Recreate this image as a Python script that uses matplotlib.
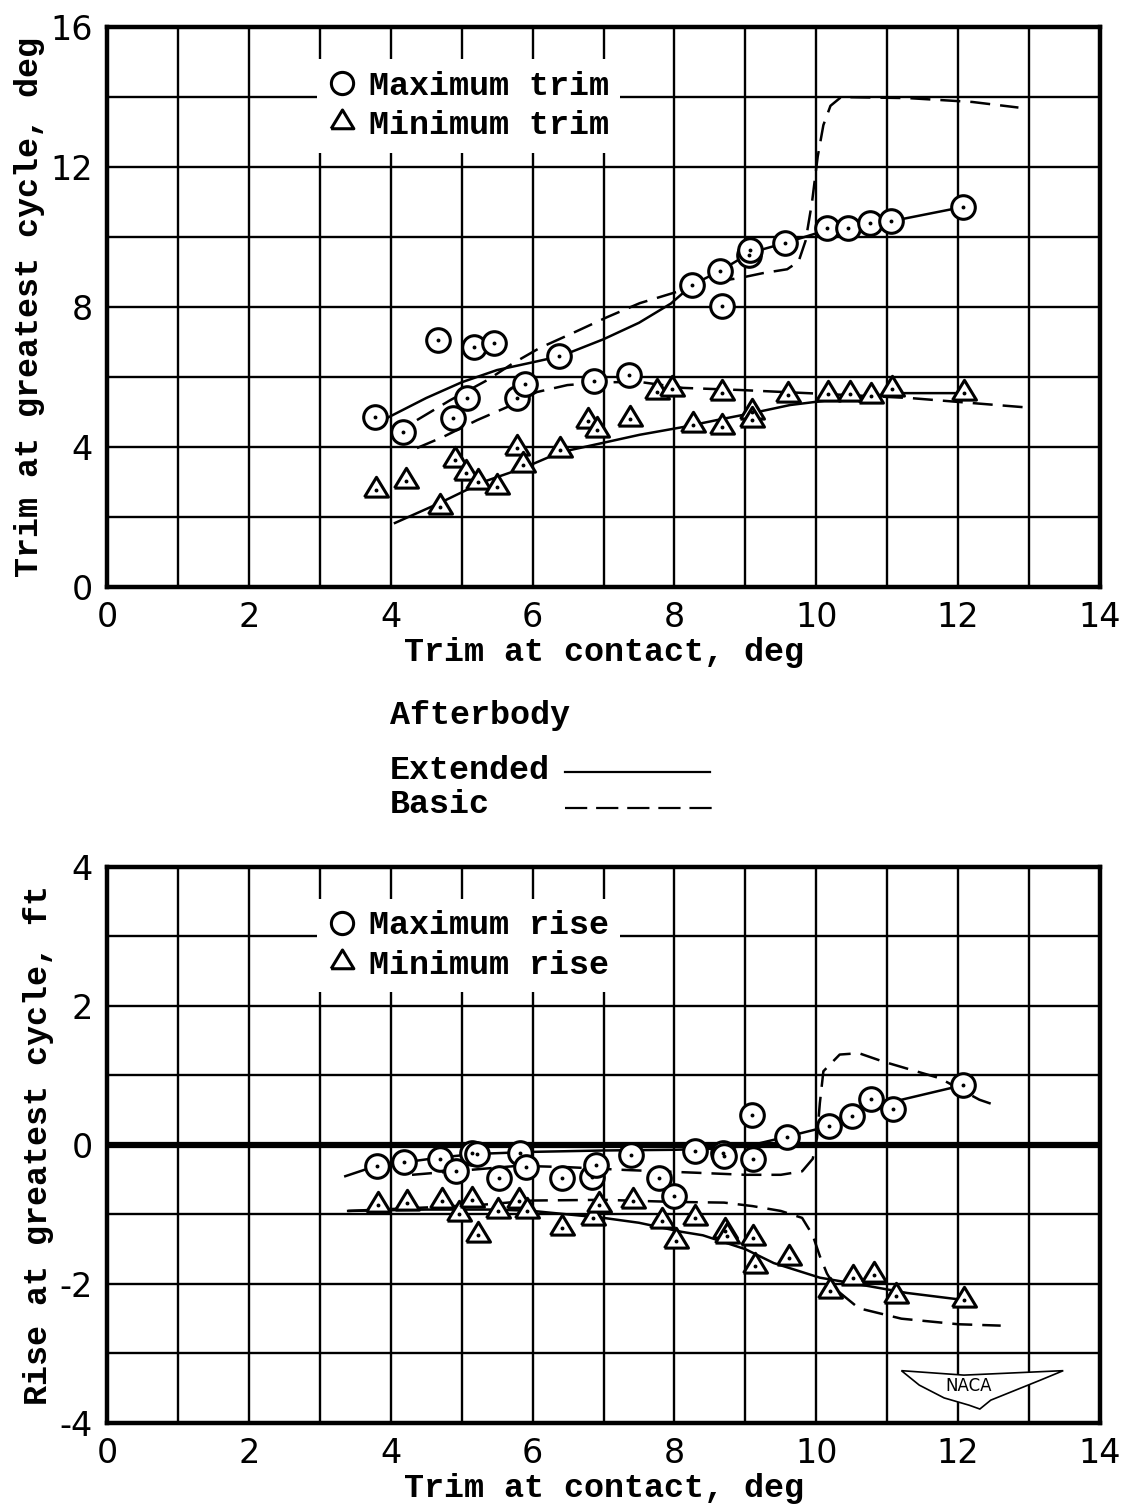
import matplotlib
matplotlib.use("Agg")
import matplotlib.pyplot as plt
from matplotlib.lines import Line2D
from matplotlib.patches import Polygon

plt.rcParams["axes.unicode_minus"] = False

# ---- top panel: trim at greatest cycle ----
max_trim_x = [3.78, 4.17, 4.67, 4.88, 5.08, 5.17, 5.46, 5.78, 5.89, 6.37, 6.87, 7.36,
              8.25, 8.64, 8.67, 9.05, 9.07, 9.56, 10.15, 10.45, 10.76, 11.05, 12.07]
max_trim_y = [4.86, 4.43, 7.06, 4.83, 5.40, 6.86, 6.97, 5.40, 5.80, 6.60, 5.89, 6.06,
              8.63, 9.03, 8.03, 9.49, 9.63, 9.83, 10.26, 10.26, 10.40, 10.46, 10.86]
min_trim_x = [3.79, 4.22, 4.69, 4.91, 5.06, 5.23, 5.50, 5.78, 5.86, 6.39, 6.78, 6.91, 7.37,
              7.75, 7.97, 8.26, 8.67, 8.67, 9.09, 9.09, 9.60, 10.16, 10.47, 10.77, 11.07, 12.08]
min_trim_y = [2.77, 3.03, 2.29, 3.63, 3.26, 3.00, 2.86, 3.97, 3.49, 3.91, 4.74, 4.49, 4.80,
              5.57, 5.66, 4.63, 5.54, 4.57, 5.00, 4.77, 5.49, 5.51, 5.51, 5.46, 5.66, 5.54]

ext_max_trim_x = [3.90, 4.50, 5.00, 5.50, 6.00, 6.40, 7.00, 7.50, 7.95, 8.25, 8.64, 9.07,
                  9.56, 10.15, 10.45, 10.76, 11.05, 12.07]
ext_max_trim_y = [4.78, 5.40, 5.85, 6.20, 6.42, 6.60, 7.08, 7.55, 8.10, 8.63, 9.03, 9.55,
                  9.83, 10.20, 10.26, 10.38, 10.45, 10.86]
bas_max_trim_x = [4.37, 4.84, 5.36, 5.73, 6.10, 6.57, 7.05, 7.51, 7.98, 8.46, 8.92, 9.25,
                  9.59, 9.75, 9.85, 9.94, 10.02, 10.10, 10.20, 10.35, 11.30, 12.20, 12.85]
bas_max_trim_y = [4.77, 5.34, 5.91, 6.40, 6.83, 7.26, 7.71, 8.11, 8.40, 8.69, 8.83, 8.97,
                  9.08, 9.30, 9.90, 11.00, 12.30, 13.20, 13.75, 14.00, 13.97, 13.86, 13.70]
ext_min_trim_x = [4.06, 4.69, 5.30, 5.87, 6.39, 6.95, 7.51, 8.12, 8.67, 9.10, 9.63, 9.87,
                  10.50, 11.00, 11.20, 12.08]
ext_min_trim_y = [1.83, 2.40, 3.00, 3.40, 3.85, 4.10, 4.35, 4.57, 4.80, 4.97, 5.20, 5.26,
                  5.42, 5.50, 5.54, 5.54]
bas_min_trim_x = [4.37, 4.74, 5.22, 5.64, 6.06, 6.49, 7.00, 7.51, 8.12, 8.92, 9.87, 11.32, 12.91]
bas_min_trim_y = [3.97, 4.29, 4.77, 5.14, 5.57, 5.77, 5.85, 5.86, 5.69, 5.63, 5.54, 5.40, 5.14]

# ---- bottom panel: rise at greatest cycle ----
max_rise_x = [3.81, 4.19, 4.69, 4.92, 5.15, 5.22, 5.53, 5.82, 5.91, 6.41, 6.84, 6.89, 7.39,
              7.78, 7.99, 8.29, 8.68, 8.70, 9.09, 9.11, 9.59, 10.18, 10.50, 10.77, 11.08, 12.07]
max_rise_y = [-0.30, -0.25, -0.20, -0.38, -0.12, -0.13, -0.47, -0.12, -0.32, -0.47, -0.46, -0.29, -0.14,
              -0.47, -0.73, -0.09, -0.12, -0.16, 0.43, -0.20, 0.12, 0.27, 0.42, 0.66, 0.52, 0.86]
min_rise_x = [3.82, 4.23, 4.72, 4.96, 5.15, 5.23, 5.51, 5.81, 5.92, 6.41, 6.85, 6.94, 7.42,
              7.82, 8.02, 8.29, 8.71, 8.74, 9.11, 9.14, 9.62, 10.20, 10.52, 10.81, 11.12, 12.08]
min_rise_y = [-0.86, -0.83, -0.81, -1.00, -0.79, -1.29, -0.95, -0.81, -0.95, -1.19, -1.05, -0.86, -0.81,
              -1.10, -1.38, -1.05, -1.24, -1.31, -1.34, -1.74, -1.63, -2.10, -1.91, -1.87, -2.17, -2.23]

ext_max_rise_x = [3.36, 3.80, 4.20, 4.70, 5.20, 6.00, 7.00, 8.00, 8.70, 9.10, 9.59, 10.18,
                  10.50, 10.77, 11.20, 12.07]
ext_max_rise_y = [-0.45, -0.30, -0.25, -0.18, -0.13, -0.10, -0.08, -0.07, -0.05, 0.00, 0.12, 0.27,
                  0.42, 0.60, 0.65, 0.86]
bas_max_rise_x = [4.30, 5.00, 5.80, 6.50, 7.30, 8.30, 9.00, 9.50, 9.80, 9.95, 10.01, 10.05,
                  10.10, 10.33, 10.60, 10.94, 11.74, 12.30, 12.50]
bas_max_rise_y = [-0.43, -0.37, -0.30, -0.32, -0.36, -0.40, -0.43, -0.43, -0.38, -0.20, 0.10, 0.60,
                  1.06, 1.30, 1.32, 1.20, 0.96, 0.65, 0.58]
ext_min_rise_x = [3.40, 4.50, 5.50, 6.00, 6.50, 7.00, 7.50, 8.10, 8.40, 9.00, 9.40, 10.05,
                  10.62, 11.28, 12.07]
ext_min_rise_y = [-0.95, -0.93, -0.93, -0.95, -1.00, -1.05, -1.12, -1.25, -1.30, -1.50, -1.70, -1.91,
                  -2.01, -2.13, -2.23]
bas_min_rise_x = [3.40, 4.50, 5.30, 6.00, 7.00, 8.00, 8.70, 9.10, 9.50, 9.80, 9.95, 10.05,
                  10.15, 10.30, 10.60, 11.20, 12.00, 12.60]
bas_min_rise_y = [-0.95, -0.90, -0.86, -0.80, -0.79, -0.82, -0.83, -0.88, -0.95, -1.05, -1.30, -1.60,
                  -1.85, -2.10, -2.35, -2.50, -2.58, -2.60]

TYPE = {"family": "Liberation Mono", "weight": "bold", "size": 24}
TICKFONT = "DejaVu Sans"
TRI = [(-1, -0.55), (1, -0.55), (0, 1.1), (-1, -0.55)]
DASH = (0, (8, 4))


def setup(ax, ylim, ymajor, yminor, ylabel):
    ax.set_xlim(0, 14)
    ax.set_ylim(*ylim)
    ax.set_xticks(range(0, 15, 2))
    ax.set_xticks(range(0, 15), minor=True)
    ax.set_yticks(ymajor)
    ax.set_yticks(yminor, minor=True)
    ax.grid(True, which="both", color="black", lw=1.7, zorder=0)
    ax.set_axisbelow(True)
    ax.tick_params(which="both", length=0, labelsize=24, pad=10)
    for lab in ax.get_xticklabels() + ax.get_yticklabels():
        lab.set_fontfamily(TICKFONT)
    for s in ax.spines.values():
        s.set_linewidth(3.2)
    ax.set_xlabel("Trim at contact, deg", fontdict=TYPE, labelpad=2)
    ax.set_ylabel(ylabel, fontdict=TYPE, labelpad=4)


def points(ax, x, y, marker, ms):
    ax.plot(x, y, ls="none", marker=marker, ms=ms, mfc="white", mec="black",
            mew=2.2, zorder=4)
    ax.plot(x, y, ls="none", marker="o", ms=1.8, color="black", zorder=5)


def add_legend(ax, labels):
    handles = [
        Line2D([], [], ls="none", marker="o", ms=16, mfc="white", mec="black", mew=2.2),
        Line2D([], [], ls="none", marker=TRI, ms=18, mfc="white", mec="black", mew=2.2),
    ]
    ax.legend(handles, labels, loc="upper left", bbox_to_anchor=(0.2115, 0.943),
              prop=TYPE, frameon=True, facecolor="white", edgecolor="none",
              framealpha=1, fancybox=False, handlelength=0.8, handletextpad=0.4,
              labelspacing=0.25, borderpad=0.35, borderaxespad=0)


fig = plt.figure(figsize=(11.31, 15.04), dpi=100)
ax1 = fig.add_axes([0.0946, 0.6097, 0.878, 0.3723])
ax2 = fig.add_axes([0.0946, 0.0539, 0.878, 0.3697])

# top panel
setup(ax1, (0, 16), range(0, 17, 4), range(0, 17, 2), "Trim at greatest cycle, deg")
ax1.plot(ext_max_trim_x, ext_max_trim_y, color="black", lw=1.8, zorder=3)
ax1.plot(ext_min_trim_x, ext_min_trim_y, color="black", lw=1.8, zorder=3)
ax1.plot(bas_max_trim_x, bas_max_trim_y, color="black", lw=1.8, ls=DASH, zorder=3)
ax1.plot(bas_min_trim_x, bas_min_trim_y, color="black", lw=1.8, ls=DASH, zorder=3)
points(ax1, max_trim_x, max_trim_y, "o", 17)
points(ax1, min_trim_x, min_trim_y, TRI, 19)
add_legend(ax1, ["Maximum trim", "Minimum trim"])

# bottom panel
setup(ax2, (-4, 4), range(-4, 5, 2), range(-4, 5, 1), "Rise at greatest cycle, ft")
ax2.axhline(0, color="black", lw=4.5, zorder=1)
ax2.plot(ext_max_rise_x, ext_max_rise_y, color="black", lw=1.8, zorder=3)
ax2.plot(ext_min_rise_x, ext_min_rise_y, color="black", lw=1.8, zorder=3)
ax2.plot(bas_max_rise_x, bas_max_rise_y, color="black", lw=1.8, ls=DASH, zorder=3)
ax2.plot(bas_min_rise_x, bas_min_rise_y, color="black", lw=1.8, ls=DASH, zorder=3)
points(ax2, max_rise_x, max_rise_y, "o", 17)
points(ax2, min_rise_x, min_rise_y, TRI, 19)
add_legend(ax2, ["Maximum rise", "Minimum rise"])

# NACA wing logo (decoration)
wing = [(0.800, 0.094), (0.863, 0.086), (0.963, 0.094), (0.940, 0.077), (0.915, 0.059),
        (0.890, 0.041), (0.879, 0.025), (0.868, 0.032), (0.843, 0.045), (0.818, 0.068)]
ax2.add_patch(Polygon(wing, closed=True, transform=ax2.transAxes, facecolor="white",
                      edgecolor="black", lw=1.2, zorder=6))
ax2.text(0.868, 0.066, "NACA", transform=ax2.transAxes, ha="center", va="center",
         fontsize=12, fontfamily="DejaVu Sans", zorder=7)

# afterbody key between panels
fig.text(0.345, 0.5246, "Afterbody", fontdict=TYPE, va="center")
fig.text(0.345, 0.488, "Extended", fontdict=TYPE, va="center")
fig.text(0.345, 0.4648, "Basic", fontdict=TYPE, va="center")
fig.add_artist(Line2D([0.4996, 0.6278], [0.4867, 0.4867], color="black", lw=1.6))
fig.add_artist(Line2D([0.4996, 0.6322], [0.4628, 0.4628], color="black", lw=1.6,
                      ls=(0, (10, 4))))

fig.savefig("out.png", dpi=100, facecolor="white")
